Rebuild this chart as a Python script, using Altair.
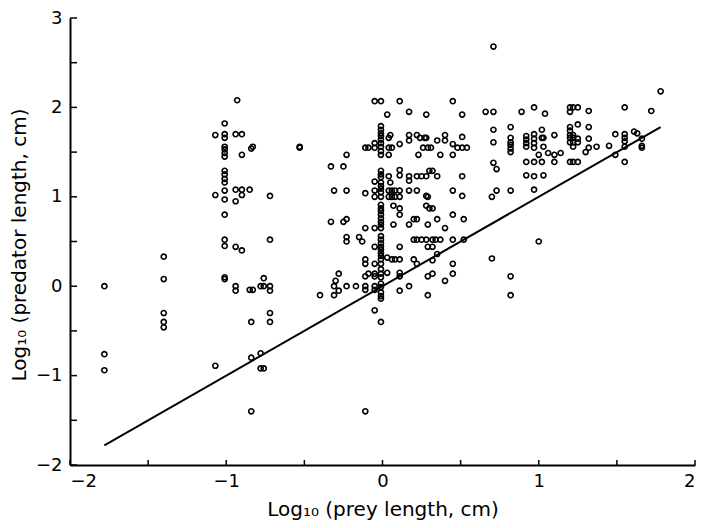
import altair as alt
import pandas as pd

# Each prey-length column (log10 cm) with the predator lengths (log10 cm) read at it
col_prey = [
    -1.78, -1.40, -1.07, -1.01, -0.93, -0.94, -0.90, -0.85, -0.83, -0.84,
    -0.78, -0.76, -0.72, -0.53, -0.40, -0.33, -0.31, -0.30, -0.28, -0.25,
    -0.23, -0.17, -0.15, -0.13, -0.11, -0.09, -0.05, -0.01, 0.03, 0.04,
    0.05, 0.06, 0.07, 0.08, 0.11, 0.17, 0.20, 0.22, 0.23, 0.24,
    0.25, 0.26, 0.27, 0.28, 0.29, 0.30, 0.31, 0.32, 0.34, 0.35,
    0.37, 0.40, 0.45, 0.48, 0.51, 0.52, 0.54, 0.66, 0.70, 0.71,
    0.73, 0.82, 0.89, 0.92, 0.97, 1.00, 1.02, 1.03, 1.04, 1.06,
    1.10, 1.14, 1.20, 1.22, 1.25, 1.30, 1.32, 1.37, 1.45, 1.49,
    1.55, 1.61, 1.63, 1.66, 1.72, 1.78,
]
col_predator = [
    [0.00, -0.76, -0.94],
    [0.33, 0.08, -0.30, -0.40, -0.46],
    [1.69, 1.02, -0.89],
    [1.82, 1.70, 1.66, 1.56, 1.53, 1.49, 1.45, 1.29, 1.25, 1.20, 1.16, 1.07,
     0.97, 0.80, 0.52, 0.45, 0.10, 0.08],
    [2.08],
    [1.70, 1.08, 0.95, 0.44, 0.00, -0.05],
    [1.70, 1.47, 1.08, 1.02, 0.40],
    [1.08, -0.04],
    [1.56, -0.04],
    [1.54, -0.40, -0.80, -1.40],
    [0.00, -0.75, -0.92],
    [0.00, 0.09, -0.92],
    [1.01, 0.52, 0.00, -0.05, -0.30, -0.40],
    [1.55, 1.56],
    [-0.10],
    [1.34, 0.72],
    [1.07, 0.00, -0.10],
    [0.06],
    [0.14, -0.05],
    [1.34, 0.72],
    [1.47, 1.07, 0.75, 0.55, 0.50, 0.00],
    [0.00],
    [0.55],
    [0.50],
    [1.55, 1.04, 0.65, 0.30, 0.25, 0.11, 0.00, -0.04, -1.40],
    [1.55, 0.14],
    [2.07, 1.60, 1.55, 1.17, 1.07, 1.00, 0.65, 0.44, 0.25, 0.14, 0.11, 0.00,
     -0.04, -0.27],
    [2.07, 1.79, 1.75, 1.71, 1.68, 1.64, 1.60, 1.56, 1.51, 1.47, 1.29, 1.25,
     1.22, 1.16, 1.12, 1.09, 1.05, 1.00, 0.91, 0.87, 0.84, 0.80, 0.76, 0.72,
     0.69, 0.65, 0.56, 0.52, 0.48, 0.44, 0.41, 0.37, 0.34, 0.30, 0.25, 0.19,
     0.14, 0.10, 0.03, -0.01, -0.07, -0.11, -0.14, -0.40],
    [1.92, 0.32, 0.15],
    [1.66, 1.55, 1.47, 1.23, 1.07, 1.00],
    [1.69, 1.16],
    [1.55, 1.07, 1.00, 0.30],
    [0.90, 0.69],
    [1.07, 1.00, 0.30],
    [2.07, 1.59, 1.30, 1.24, 1.07, 1.00, 0.87, 0.80, 0.44, 0.30, 0.15, 0.11, -0.05],
    [1.95, 1.69, 1.63, 1.23, 1.18, 1.07, 0.69, 0.00],
    [0.75, 0.52, 0.30],
    [1.69, 1.23, 1.07, 0.75, 0.52, 0.25],
    [1.47],
    [1.66],
    [1.23, 0.52],
    [1.55],
    [1.66],
    [1.92, 1.66, 1.23, 1.01, 0.90, 0.52],
    [1.55, 1.00, 0.69, 0.44, 0.11, -0.10],
    [1.29, 0.87],
    [1.55],
    [1.29, 0.87, 0.52, 0.44, 0.29, 0.14],
    [0.52],
    [1.63, 1.23, 0.75, 0.36],
    [1.47, 0.52],
    [1.69, 1.63, 0.65, 0.06],
    [2.07, 1.59, 1.47, 1.07, 0.80, 0.52, 0.25, 0.14],
    [1.55],
    [1.92, 1.67, 1.55, 1.23, 1.01],
    [0.75, 0.52],
    [1.55],
    [1.95],
    [1.00, 0.31],
    [2.68, 1.95, 1.75, 1.61, 1.38],
    [1.31, 1.07],
    [1.78, 1.66, 1.61, 1.58, 1.54, 1.50, 1.07, 0.11, -0.10],
    [1.95],
    [1.68, 1.64, 1.60, 1.56, 1.39, 1.24],
    [2.00, 1.70, 1.65, 1.60, 1.55, 1.39, 1.23, 1.08],
    [1.47, 0.50],
    [1.75, 1.66, 1.39],
    [1.66, 1.56, 1.24],
    [1.93],
    [1.49],
    [1.69, 1.47, 1.39],
    [1.49],
    [2.00, 1.95, 1.78, 1.74, 1.69, 1.66, 1.61, 1.39],
    [2.00, 1.69, 1.66, 1.61, 1.56, 1.39],
    [2.00, 1.81, 1.65, 1.61, 1.39],
    [1.50],
    [1.96, 1.78, 1.65, 1.55],
    [1.56],
    [1.57],
    [1.70, 1.47],
    [2.00, 1.70, 1.66, 1.62, 1.56, 1.39],
    [1.73],
    [1.71],
    [1.65, 1.57, 1.55],
    [1.96],
    [2.18],
]

# Reference line (predator length = prey length)
line_x = [-1.78, 1.78]
line_y = [-1.78, 1.78]

# Axis ticks
x_major = [-2, -1, 0, 1, 2]
x_minor = [-1.5, -0.5, 0.5, 1.5]
y_major = [-2, -1, 0, 1, 2, 3]
y_minor = [-1.5, -0.5, 0.5, 1.5, 2.5]

rows = [{"prey": px, "pred": py} for px, ys in zip(col_prey, col_predator) for py in ys]
pts_df = pd.DataFrame(rows)
line_df = pd.DataFrame({"prey": line_x, "pred": line_y})
xt_df = pd.DataFrame({"prey": x_major + x_minor})
yt_df = pd.DataFrame({"pred": y_major + y_minor})

W, H = 625, 447
FONT = "DejaVu Sans"
xs = alt.Scale(domain=[-2, 2], nice=False, zero=False)
ys = alt.Scale(domain=[-2, 3], nice=False, zero=False)

x_axis = alt.Axis(
    values=x_major, ticks=False, grid=False, format="d",
    domainColor="black", domainWidth=2,
    labelFont=FONT, labelFontSize=18, labelColor="black", labelPadding=7,
    title="Log\u2081\u2080 (prey length, cm)", titleFont=FONT, titleFontSize=20,
    titleFontWeight="normal", titleColor="black",
    titleX=W / 2, titleY=44, titleAnchor="middle", titleBaseline="middle",
)
y_axis = alt.Axis(
    values=y_major, ticks=False, grid=False, format="d",
    domainColor="black", domainWidth=2,
    labelFont=FONT, labelFontSize=18, labelColor="black", labelPadding=8,
    title="Log\u2081\u2080 (predator length, cm)", titleFont=FONT, titleFontSize=20,
    titleFontWeight="normal", titleColor="black",
    titleX=-51, titleY=H / 2 + 3, titleAnchor="middle", titleBaseline="middle",
)

points = alt.Chart(pts_df).mark_point(
    shape="circle", filled=False, color="black", size=26, strokeWidth=1.6, opacity=1
).encode(
    x=alt.X("prey:Q", scale=xs, axis=x_axis),
    y=alt.Y("pred:Q", scale=ys, axis=y_axis),
)

line = alt.Chart(line_df).mark_line(color="black", strokeWidth=2).encode(
    x=alt.X("prey:Q", scale=xs),
    y=alt.Y("pred:Q", scale=ys),
)

yticks = alt.Chart(yt_df).mark_rule(color="black", strokeWidth=1.5).encode(
    y=alt.Y("pred:Q", scale=ys),
    x=alt.value(0),
    x2=alt.value(7),
)
xticks = alt.Chart(xt_df).mark_rule(color="black", strokeWidth=1.5).encode(
    x=alt.X("prey:Q", scale=xs),
    y=alt.value(H),
    y2=alt.value(H - 5),
)

chart = alt.layer(points, line, yticks, xticks).properties(
    width=W, height=H,
    padding={"left": 62, "top": 10, "right": 6, "bottom": 55},
    autosize=alt.AutoSizeParams(type="none"),
    background="white",
).configure_view(stroke=None)

chart.save("out.html", embed_options={"renderer": "svg", "actions": False})
